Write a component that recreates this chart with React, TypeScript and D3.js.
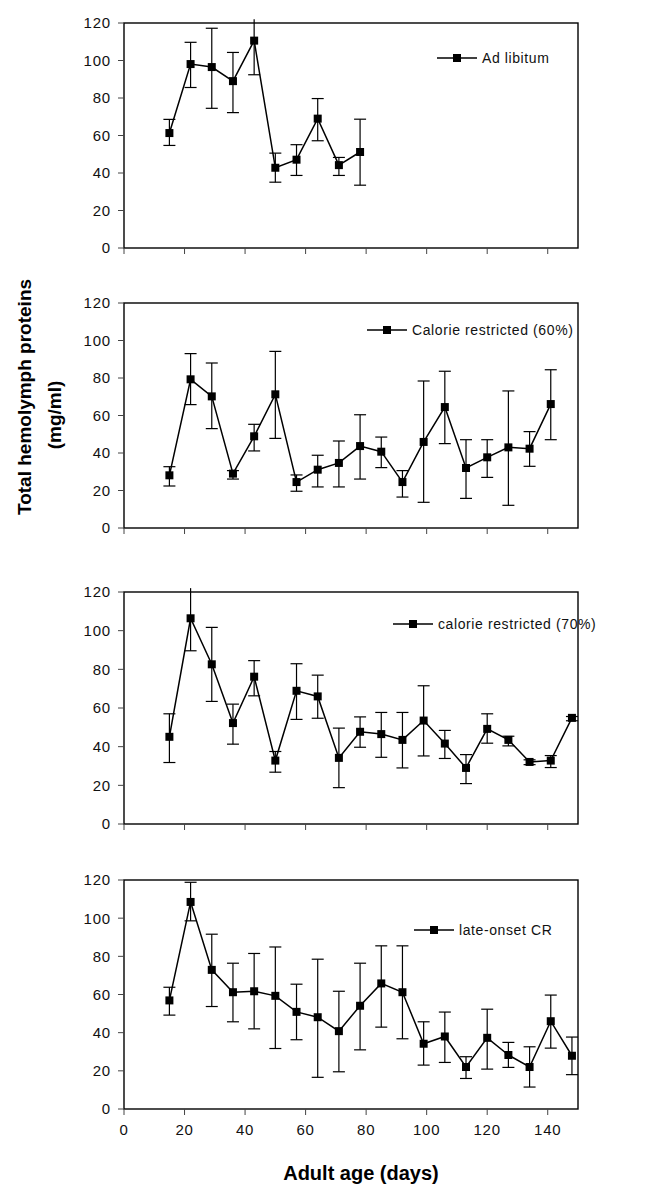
import * as d3 from "d3";
import { useEffect, useRef } from "react";

const days = [15, 22, 29, 36, 43, 50, 57, 64, 71, 78, 85, 92, 99, 106, 113, 120, 127, 134, 141, 148];
const yTicks = [0, 20, 40, 60, 80, 100, 120];
const xTicks = [0, 20, 40, 60, 80, 100, 120, 140];

const seriesNames = ["Ad libitum", "Calorie restricted (60%)", "calorie restricted (70%)", "late-onset CR"];

const adLibMean = [61.3, 98.1, 96.5, 89, 110.6, 42.8, 47.1, 69, 44.2, 51.2];
const adLibHigh = [68.6, 109.7, 117.2, 104.3, 122, 50.6, 55.1, 79.7, 48.3, 68.7];
const adLibLow = [54.7, 85.6, 74.5, 72.2, 92.4, 35.1, 38.7, 57.2, 38.7, 33.5];

const cr60Mean = [28.1, 79.3, 70.2, 29, 48.9, 71.3, 24.5, 31.1, 34.7, 43.7, 40.7, 24.5, 45.9, 64.5, 32, 37.7, 43, 42.3, 66.1];
const cr60High = [32.7, 93, 88, 30.6, 55.3, 94.2, 28.3, 38.8, 46.4, 60.4, 48.5, 30.6, 78.4, 83.6, 47.1, 47.1, 73.1, 51.4, 84.4];
const cr60Low = [22.4, 65.8, 53, 26.1, 41.1, 47.8, 19.6, 21.9, 21.9, 26.1, 32.2, 16.5, 13.7, 45, 15.8, 27, 12.1, 32.9, 47.1];

const cr70Mean = [45.1, 106.4, 82.6, 52.2, 76.2, 32.8, 68.9, 66, 34.2, 47.7, 46.5, 43.5, 53.5, 41.6, 29, 49.2, 43.5, 32.1, 32.8, 54.9];
const cr70High = [57, 122, 101.7, 62, 84.5, 37.5, 82.9, 77, 49.6, 55.4, 57.7, 57.7, 71.5, 48.4, 35.9, 57, 45.4, 33.2, 35.4, 55.6];
const cr70Low = [31.8, 89.6, 63.4, 41.3, 66.3, 26.8, 54.1, 54.7, 18.8, 39.7, 34.5, 29, 35.2, 33.9, 20.9, 41.8, 40.4, 30.7, 29.2, 53.4];

const lateMean = [56.9, 108.5, 72.9, 61.2, 61.7, 59.3, 50.9, 48.1, 40.8, 54.1, 65.8, 61.2, 34.2, 38, 22, 37.3, 28.3, 22, 46, 27.9];
const lateHigh = [63.8, 118.8, 91.6, 76.4, 81.5, 84.9, 65.4, 78.5, 61.7, 76.4, 85.5, 85.5, 45.7, 50.8, 27.4, 52.3, 34.9, 32.6, 59.7, 37.7];
const lateLow = [49.2, 98.6, 53.7, 45.7, 42, 31.7, 36.3, 16.6, 19.5, 31, 42.9, 36.8, 23, 24.4, 16, 20.9, 21.8, 11.5, 31.9, 18];

const W = 662;
const H = 1201;
const left = 124;
const right = 578;

// panel layout: top/bottom pixel of the y range, legend line start
const panels = [
  { name: seriesNames[0], mean: adLibMean, high: adLibHigh, low: adLibLow, top: 23, bottom: 248, legX: 437, legY: 58 },
  { name: seriesNames[1], mean: cr60Mean, high: cr60High, low: cr60Low, top: 303, bottom: 528, legX: 367, legY: 330 },
  { name: seriesNames[2], mean: cr70Mean, high: cr70High, low: cr70Low, top: 592, bottom: 824, legX: 393, legY: 624 },
  { name: seriesNames[3], mean: lateMean, high: lateHigh, low: lateLow, top: 880, bottom: 1109, legX: 414, legY: 930 },
];

const FONT = "'Liberation Sans', Arial, sans-serif";

const App = () => {
  const svgRef = useRef<SVGSVGElement | null>(null);

  useEffect(() => {
    const svg = d3.select(svgRef.current);
    svg.selectAll("*").remove();
    svg.append("rect").attr("width", W).attr("height", H).attr("fill", "white");

    const xScale = d3.scaleLinear().domain([0, 150]).range([left, right]);

    panels.forEach((p, pi) => {
      const yScale = d3.scaleLinear().domain([0, 120]).range([p.bottom, p.top]);
      const g = svg.append("g");

      // frame
      g.append("rect")
        .attr("x", left)
        .attr("y", p.top)
        .attr("width", right - left)
        .attr("height", p.bottom - p.top)
        .attr("fill", "none")
        .attr("stroke", "#000")
        .attr("stroke-width", 1.4);

      // y axis ticks + labels
      g.selectAll(".yt")
        .data(yTicks)
        .join("line")
        .attr("x1", left - 6)
        .attr("x2", left)
        .attr("y1", (d) => yScale(d))
        .attr("y2", (d) => yScale(d))
        .attr("stroke", "#444")
        .attr("stroke-width", 1);
      g.selectAll(".yl")
        .data(yTicks)
        .join("text")
        .attr("x", left - 13)
        .attr("y", (d) => yScale(d))
        .attr("dy", "0.36em")
        .attr("text-anchor", "end")
        .attr("font-family", FONT)
        .attr("font-size", 15)
        .attr("letter-spacing", 0.8)
        .attr("fill", "#111")
        .text((d) => d);

      // x axis ticks
      g.selectAll(".xt")
        .data(xTicks)
        .join("line")
        .attr("x1", (d) => xScale(d))
        .attr("x2", (d) => xScale(d))
        .attr("y1", p.bottom)
        .attr("y2", p.bottom + 6)
        .attr("stroke", "#444")
        .attr("stroke-width", 1);

      if (pi === panels.length - 1) {
        g.selectAll(".xl")
          .data(xTicks)
          .join("text")
          .attr("x", (d) => xScale(d))
          .attr("y", p.bottom + 26)
          .attr("text-anchor", "middle")
          .attr("font-family", FONT)
          .attr("font-size", 15)
          .attr("letter-spacing", 0.8)
          .attr("fill", "#111")
          .text((d) => d);
      }

      const pts = p.mean.map((m, i) => ({ x: days[i], y: m, hi: p.high[i], lo: p.low[i] }));

      // connecting line
      g.append("path")
        .datum(pts)
        .attr("fill", "none")
        .attr("stroke", "#000")
        .attr("stroke-width", 1.5)
        .attr(
          "d",
          d3
            .line<{ x: number; y: number }>()
            .x((d) => xScale(d.x))
            .y((d) => yScale(d.y))
        );

      // error bars
      const eb = g.selectAll(".eb").data(pts).join("g");
      eb.append("line")
        .attr("x1", (d) => xScale(d.x))
        .attr("x2", (d) => xScale(d.x))
        .attr("y1", (d) => yScale(d.lo))
        .attr("y2", (d) => yScale(d.hi))
        .attr("stroke", "#000")
        .attr("stroke-width", 1.2);
      const capW = 6;
      eb.append("line")
        .attr("x1", (d) => xScale(d.x) - capW)
        .attr("x2", (d) => xScale(d.x) + capW)
        .attr("y1", (d) => yScale(d.lo))
        .attr("y2", (d) => yScale(d.lo))
        .attr("stroke", "#000")
        .attr("stroke-width", 1.2);
      eb.filter((d) => d.hi <= 120)
        .append("line")
        .attr("x1", (d) => xScale(d.x) - capW)
        .attr("x2", (d) => xScale(d.x) + capW)
        .attr("y1", (d) => yScale(d.hi))
        .attr("y2", (d) => yScale(d.hi))
        .attr("stroke", "#000")
        .attr("stroke-width", 1.2);

      // markers
      const ms = 8;
      g.selectAll(".mk")
        .data(pts)
        .join("rect")
        .attr("x", (d) => xScale(d.x) - ms / 2)
        .attr("y", (d) => yScale(d.y) - ms / 2)
        .attr("width", ms)
        .attr("height", ms)
        .attr("fill", "#000");

      // legend
      const lg = g.append("g").attr("transform", `translate(${p.legX}, ${p.legY})`);
      lg.append("line").attr("x1", 0).attr("x2", 40).attr("y1", 0).attr("y2", 0).attr("stroke", "#000").attr("stroke-width", 1.5);
      lg.append("rect").attr("x", 20 - ms / 2).attr("y", -ms / 2).attr("width", ms).attr("height", ms).attr("fill", "#000");
      lg.append("text")
        .attr("x", 45)
        .attr("y", 0)
        .attr("dy", "0.36em")
        .attr("font-family", FONT)
        .attr("font-size", 14)
        .attr("letter-spacing", 0.6)
        .attr("fill", "#111")
        .text(p.name);
    });

    // axis titles
    svg.append("text")
      .attr("transform", "translate(31, 397) rotate(-90)")
      .attr("text-anchor", "middle")
      .attr("font-family", FONT)
      .attr("font-weight", "bold")
      .attr("font-size", 19)
      .text("Total hemolymph proteins");
    svg.append("text")
      .attr("transform", "translate(61, 415) rotate(-90)")
      .attr("text-anchor", "middle")
      .attr("font-family", FONT)
      .attr("font-weight", "bold")
      .attr("font-size", 19)
      .text("(mg/ml)");
    svg.append("text")
      .attr("x", (left + right) / 2 + 10)
      .attr("y", 1180)
      .attr("text-anchor", "middle")
      .attr("font-family", FONT)
      .attr("font-weight", "bold")
      .attr("font-size", 20)
      .text("Adult age (days)");
  }, []);

  return <svg ref={svgRef} width={W} height={H} style={{ position: "absolute", left: 0, top: 0 }} />;
};

export default App;
